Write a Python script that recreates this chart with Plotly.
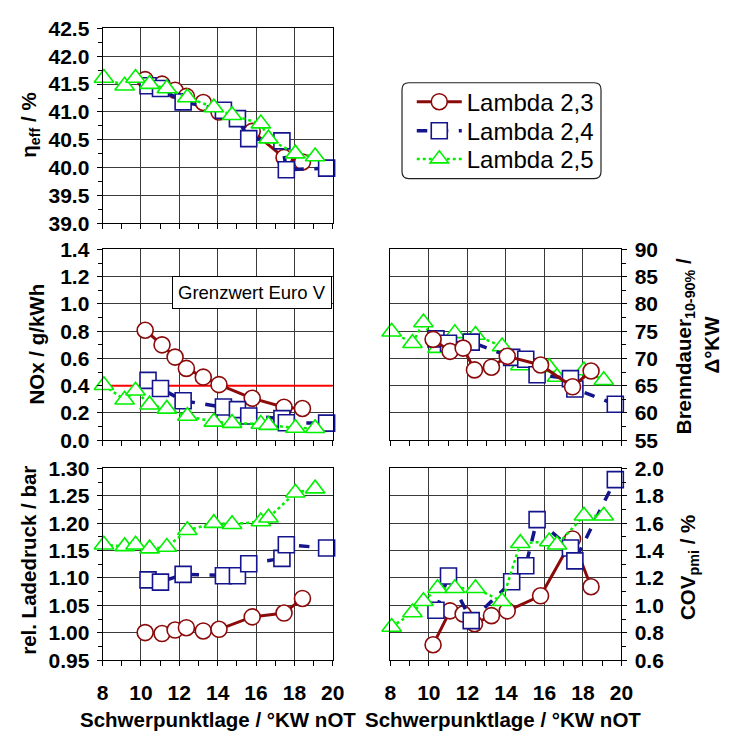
import plotly.graph_objects as go

# ---------------------------------------------------------------------------
# Data: centre-of-combustion sweep (Schwerpunktlage, °KW nOT) for three
# air/fuel ratios.  Each lambda shares its x positions across all panels.
# ---------------------------------------------------------------------------
series_names = ["Lambda 2,3", "Lambda 2,4", "Lambda 2,5"]

x_l23 = [10.22, 11.10, 11.78, 12.37, 13.25, 14.07, 15.80, 17.46, 18.42]
x_l24 = [10.37, 11.02, 12.20, 14.30, 15.03, 15.62, 17.35, 17.58, 19.68]
x_l25 = [8.07, 9.15, 9.72, 10.45, 11.35, 12.42, 13.80, 14.75, 16.25, 16.65, 18.05, 19.08]

# effective efficiency / %
eta_l23 = [41.58, 41.50, 41.39, 41.28, 41.17, 41.00, 40.65, 40.18, 40.10]
eta_l24 = [41.47, 41.42, 41.18, 41.03, 40.88, 40.52, 40.48, 39.96, 39.99]
eta_l25 = [41.61, 41.47, 41.61, 41.50, 41.42, 41.26, 41.08, 40.94, 40.79, 40.52, 40.25, 40.20]

# NOx / g/kWh
nox_l23 = [0.807, 0.700, 0.610, 0.527, 0.463, 0.408, 0.308, 0.242, 0.233]
nox_l24 = [0.439, 0.380, 0.290, 0.244, 0.225, 0.178, 0.159, 0.128, 0.126]
nox_l25 = [0.403, 0.297, 0.363, 0.261, 0.230, 0.178, 0.135, 0.126, 0.119, 0.111, 0.090, 0.088]

# Euro V NOx limit
nox_limit = 0.4
limit_x = [8, 20]

# relative boost pressure / bar
p_l23 = [1.0004, 0.9986, 1.0050, 1.0093, 1.0034, 1.0064, 1.0290, 1.0360, 1.0627]
p_l24 = [1.0965, 1.0924, 1.1066, 1.1042, 1.1042, 1.1260, 1.1357, 1.1606, 1.1547]
p_l25 = [1.1606, 1.1576, 1.1606, 1.1535, 1.1564, 1.1870, 1.2000, 1.1980, 1.2030, 1.2100, 1.2555, 1.2630]

# burn duration 10-90 % / °KW
bd_l23 = [73.5, 71.3, 71.9, 67.9, 68.4, 70.4, 68.8, 64.8, 67.7]
bd_l24 = [73.6, 72.8, 73.0, 70.2, 69.85, 67.0, 66.3, 64.4, 61.6]
bd_l25 = [74.9, 72.8, 76.6, 71.9, 74.6, 74.3, 72.2, 68.7, 68.4, 66.6, 67.8, 66.0]

# COV of pmi / %
cov_l23 = [0.713, 0.960, 0.937, 0.866, 0.925, 0.960, 1.070, 1.485, 1.136]
cov_l24 = [0.965, 1.214, 0.889, 1.172, 1.289, 1.626, 1.419, 1.325, 1.918]
cov_l25 = [0.842, 0.948, 1.030, 1.125, 1.125, 1.125, 1.030, 1.454, 1.466, 1.442, 1.654, 1.654]

x_ticks = [8, 10, 12, 14, 16, 18, 20]

# ---------------------------------------------------------------------------
# Styling
# ---------------------------------------------------------------------------
W, H = 732, 740
FONT = "Liberation Sans, Arial, sans-serif"
TICKFONT = dict(family=FONT, size=21, color="black", weight="bold")
TITLEFONT = dict(family=FONT, size=20.5, color="black", weight="bold")
GRID = "#3a3a3a"

styles = [
    dict(color="#8b0a0a", dash="solid", width=3, symbol="circle", size=16),
    dict(color="#14148c", dash="dash", width=3.5, symbol="square", size=16),
    dict(color="#00f000", dash="dot", width=2.5, symbol="triangle-up", size=17),
]

xs = [x_l23, x_l24, x_l25]


def px_x(p):
    return p / W


def px_y(p):
    return 1 - p / H


left_dom = [px_x(99), px_x(335)]
right_dom = [px_x(394), px_x(631)]
top_dom = [px_y(218), px_y(17)]
mid_dom = [px_y(442), px_y(245)]
bot_dom = [px_y(669), px_y(471)]

fig = go.Figure()

# Euro V limit line in the NOx panel
fig.add_trace(go.Scatter(
    x=limit_x, y=[nox_limit, nox_limit], xaxis="x2", yaxis="y2",
    mode="lines", line=dict(color="#ff0000", width=2),
    showlegend=False, hoverinfo="skip"))

panels = [
    ("x", "y", [eta_l23, eta_l24, eta_l25], [0, 1, 2], True),
    ("x2", "y2", [nox_l23, nox_l24, nox_l25], [0, 1, 2], False),
    ("x3", "y3", [p_l23, p_l24, p_l25], [0, 1, 2], False),
    ("x4", "y4", [bd_l23, bd_l24, bd_l25], [2, 1, 0], False),
    ("x5", "y5", [cov_l23, cov_l24, cov_l25], [0, 1, 2], False),
]

legend_ids = ["legend", "legend2", "legend3"]

for xa, ya, ys, order, legend in panels:
    for i in order:
        st = styles[i]
        fig.add_trace(go.Scatter(
            x=xs[i], y=ys[i], xaxis=xa, yaxis=ya,
            mode="lines+markers", name=series_names[i],
            legend=legend_ids[i], showlegend=legend, cliponaxis=False,
            line=dict(color=st["color"], dash=st["dash"], width=st["width"]),
            marker=dict(symbol=st["symbol"], size=st["size"], color="white",
                        line=dict(color=st["color"], width=1.6)),
        ))


def xaxis(domain, anchor, labels):
    return dict(domain=domain, anchor=anchor, range=[8, 20],
                tickvals=x_ticks, showgrid=True, gridcolor=GRID, gridwidth=1,
                showline=True, linecolor="black", linewidth=1, mirror=True,
                ticks="outside", ticklen=5, tickcolor="black",
                minor=dict(dtick=1, tick0=8, ticks="outside", ticklen=5,
                           tickcolor="black", showgrid=False),
                showticklabels=labels, tickfont=TICKFONT, zeroline=False,
                ticklabelstandoff=9)


def yaxis(domain, anchor, rng, dtick, fmt, side="left"):
    return dict(domain=domain, anchor=anchor, range=rng, dtick=dtick,
                tick0=rng[0], tickformat=fmt, side=side,
                showgrid=True, gridcolor=GRID, gridwidth=1,
                showline=True, linecolor="black", linewidth=1, mirror=True,
                ticks="outside", ticklen=5, tickcolor="black",
                minor=dict(dtick=dtick / 2, tick0=rng[0], ticks="outside",
                           ticklen=4, tickcolor="black", showgrid=False),
                tickfont=TICKFONT, zeroline=False, ticklabelstandoff=3)


legend_common = dict(xanchor="left", yanchor="middle",
                     bgcolor="rgba(0,0,0,0)", borderwidth=0, itemwidth=45,
                     font=dict(family=FONT, size=24, color="black"))

fig.update_layout(
    width=W, height=H,
    margin=dict(l=0, r=0, t=0, b=0),
    paper_bgcolor="white", plot_bgcolor="white",
    xaxis=xaxis(left_dom, "y", False),
    yaxis=yaxis(top_dom, "x", [39, 42.5], 0.5, ".1f"),
    xaxis2=xaxis(left_dom, "y2", False),
    yaxis2=yaxis(mid_dom, "x2", [0, 1.4], 0.2, ".1f"),
    xaxis3=xaxis(left_dom, "y3", True),
    yaxis3=yaxis(bot_dom, "x3", [0.95, 1.30], 0.05, ".2f"),
    xaxis4=xaxis(right_dom, "y4", False),
    yaxis4=yaxis(mid_dom, "x4", [55, 90], 5, "d", side="right"),
    xaxis5=xaxis(right_dom, "y5", True),
    yaxis5=yaxis(bot_dom, "x5", [0.6, 2.0], 0.2, ".1f", side="right"),
    legend=dict(x=px_x(416), y=px_y(93), **legend_common),
    legend2=dict(x=px_x(416), y=px_y(123), **legend_common),
    legend3=dict(x=px_x(416), y=px_y(152), **legend_common),
    showlegend=True,
)

# rounded frame around the legend
x0, x1 = px_x(406), px_x(610)
y0, y1 = px_y(172), px_y(73)
rx, ry = 7 / W, 7 / H
path = (f"M{x0 + rx},{y1} L{x1 - rx},{y1} Q{x1},{y1} {x1},{y1 - ry} "
        f"L{x1},{y0 + ry} Q{x1},{y0} {x1 - rx},{y0} L{x0 + rx},{y0} "
        f"Q{x0},{y0} {x0},{y0 + ry} L{x0},{y1 - ry} Q{x0},{y1} {x0 + rx},{y1} Z")
fig.add_shape(type="path", xref="paper", yref="paper", path=path,
              line=dict(color="#222222", width=1.2), fillcolor="white",
              layer="below")

annotations = [
    dict(text="Grenzwert Euro V", x=px_x(334), y=px_y(290), xanchor="right",
         yanchor="middle", showarrow=False, bgcolor="white",
         bordercolor="black", borderwidth=1, borderpad=5,
         font=dict(family=FONT, size=18.5, color="black")),
    dict(text="η<sub>eff</sub> / %", x=px_x(25), y=px_y(117), textangle=-90,
         showarrow=False, font=TITLEFONT),
    dict(text="NOx / g/kWh", x=px_x(31), y=px_y(343), textangle=-90,
         showarrow=False, font=TITLEFONT),
    dict(text="rel. Ladedruck / bar", x=px_x(23), y=px_y(566), textangle=-90,
         showarrow=False, font=TITLEFONT),
    dict(text="Brenndauer<sub>10-90%</sub> /", x=px_x(696),
         y=px_y(345), textangle=-90, showarrow=False, font=TITLEFONT),
    dict(text="Δ°KW", x=px_x(723), y=px_y(343), textangle=-90,
         showarrow=False, font=TITLEFONT),
    dict(text="COV<sub>pmi</sub> / %", x=px_x(700), y=px_y(573), textangle=-90,
         showarrow=False, font=TITLEFONT),
    dict(text="Schwerpunktlage / °KW nOT", x=px_x(217), y=px_y(730),
         showarrow=False, font=TITLEFONT),
    dict(text="Schwerpunktlage / °KW nOT", x=px_x(510), y=px_y(730),
         showarrow=False, font=TITLEFONT),
]
for a in annotations:
    a.setdefault("xref", "paper")
    a.setdefault("yref", "paper")
    a.setdefault("xanchor", "center")
    a.setdefault("yanchor", "middle")
    fig.add_annotation(**a)

fig.write_html("out.html")
